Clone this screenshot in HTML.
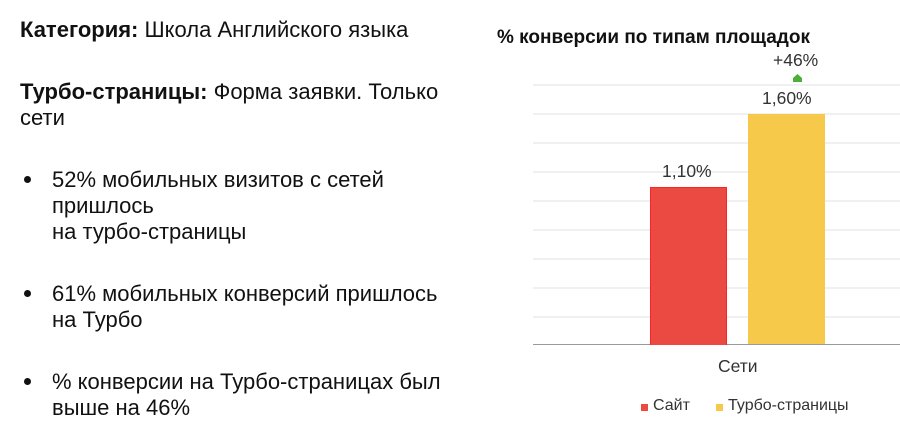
<!DOCTYPE html><html><head><meta charset="utf-8"><style>
body{margin:0;width:900px;height:446px;background:#fff;position:relative;overflow:hidden;font-family:"Liberation Sans","DejaVu Sans",sans-serif;color:#111}
.t{position:absolute;font-size:22px;white-space:nowrap;line-height:26px}
.g{position:absolute;left:533px;width:367px;height:2px;background:#f0f0f0}
.s{position:absolute;font-size:17.5px;color:#333;white-space:nowrap}
.d{position:absolute;left:24px;width:7px;height:7px;border-radius:50%;background:#111}
</style></head><body>
<div class="t" style="left:20px;top:17px"><b>Категория:</b> Школа Английского языка</div>
<div class="t" style="left:20px;top:79px"><b>Турбо-страницы:</b> Форма заявки. Только<br>сети</div>
<div class="d" style="top:176px"></div>
<div class="t" style="left:52px;top:167px">52% мобильных визитов с сетей<br>пришлось<br>на турбо-страницы</div>
<div class="d" style="top:290px"></div>
<div class="t" style="left:52px;top:281px">61% мобильных конверсий пришлось<br>на Турбо</div>
<div class="d" style="top:378px"></div>
<div class="t" style="left:52px;top:369px">% конверсии на Турбо-страницах был<br>выше на 46%</div>
<div style="position:absolute;left:497px;top:27px;font-size:19px;font-weight:bold;white-space:nowrap">% конверсии по типам площадок</div>
<div class="g" style="top:84px"></div><div class="g" style="top:113px"></div><div class="g" style="top:142px"></div><div class="g" style="top:171px"></div><div class="g" style="top:200px"></div><div class="g" style="top:229px"></div><div class="g" style="top:258px"></div><div class="g" style="top:287px"></div><div class="g" style="top:316px"></div>
<div style="position:absolute;left:533px;top:344px;width:367px;height:1px;background:#999"></div>
<div style="position:absolute;left:650px;top:187px;width:75px;height:157px;background:#ea4a42;border:1px solid #f22;border-bottom:none"></div>
<div style="position:absolute;left:748px;top:114px;width:77px;height:230px;background:#f6c94b"></div>
<div class="s" style="left:662px;top:161px">1,10%</div>
<div class="s" style="left:762px;top:88px">1,60%</div>
<div class="s" style="left:773px;top:50px">+46%</div>
<svg style="position:absolute;left:793px;top:74px" width="9" height="8"><path d="M0 8V4L4.5 0 9 4V8Z" fill="#4caf3a"/></svg>
<div class="s" style="left:718px;top:356px">Сети</div>
<div style="position:absolute;left:641px;top:404px;width:7px;height:7px;background:#ea4a42"></div>
<div class="s" style="left:653px;top:397px;font-size:16px">Сайт</div>
<div style="position:absolute;left:716px;top:404px;width:7px;height:7px;background:#f6c94b"></div>
<div class="s" style="left:728px;top:397px;font-size:16px">Турбо-страницы</div>
</body></html>
